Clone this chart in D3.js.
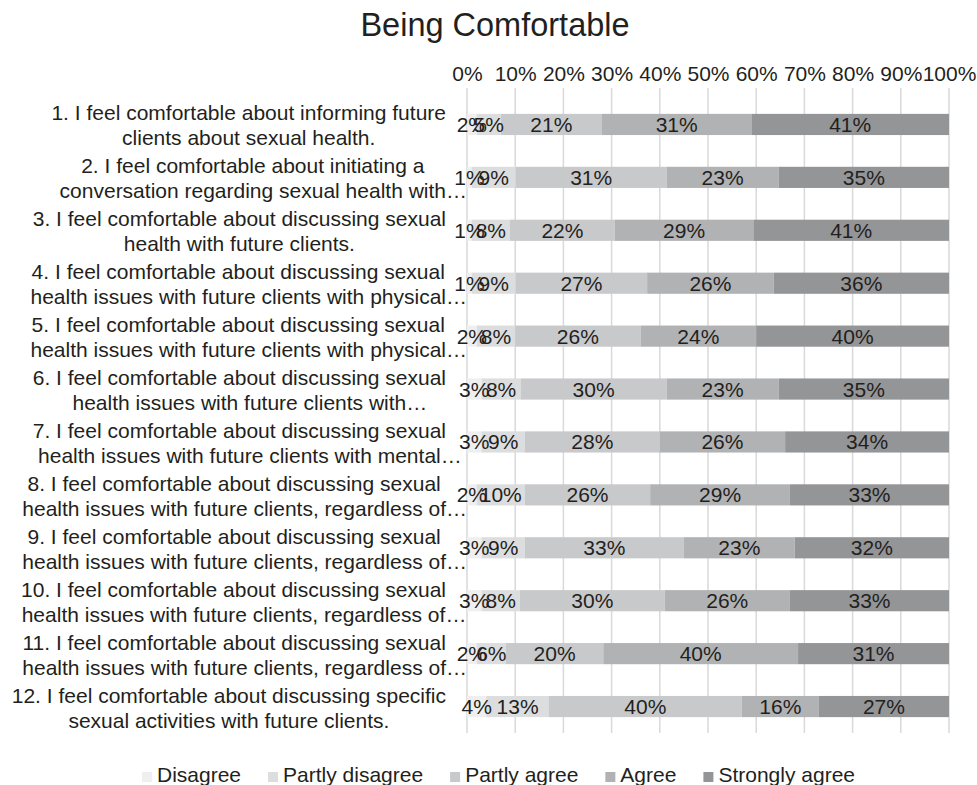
<!DOCTYPE html>
<html>
<head>
<meta charset="utf-8">
<script src="https://cdn.jsdelivr.net/npm/d3@7/dist/d3.min.js"></script>
<style>
  body { margin: 0; background: #fff; }
  svg text { font-family: "Liberation Sans", Arial, sans-serif; fill: #231f20; }
</style>
</head>
<body>
<div id="chart"></div>
<script>
// categories (two display lines each, as wrapped/truncated in the original)
const categories = [
  ["1. I feel comfortable about informing future", "clients about sexual health."],
  ["2. I feel comfortable about initiating a", "conversation regarding sexual health with…"],
  ["3. I feel comfortable about discussing sexual", "health with future clients."],
  ["4. I feel comfortable about discussing sexual", "health issues with future clients with physical…"],
  ["5. I feel comfortable about discussing sexual", "health issues with future clients with physical…"],
  ["6. I feel comfortable about discussing sexual", "health issues with future clients with…"],
  ["7. I feel comfortable about discussing sexual", "health issues with future clients with mental…"],
  ["8. I feel comfortable about discussing sexual", "health issues with future clients, regardless of…"],
  ["9. I feel comfortable about discussing sexual", "health issues with future clients, regardless of…"],
  ["10. I feel comfortable about discussing sexual", "health issues with future clients, regardless of…"],
  ["11. I feel comfortable about discussing sexual", "health issues with future clients, regardless of…"],
  ["12. I feel comfortable about discussing specific", "sexual activities with future clients."]
];

const seriesNames = ["Disagree", "Partly disagree", "Partly agree", "Agree", "Strongly agree"];

// percentages per category
const disagree       = [2, 1, 1, 1, 2, 3, 3, 2, 3, 3, 2, 4];
const partlyDisagree = [5, 9, 8, 9, 8, 8, 9, 10, 9, 8, 6, 13];
const partlyAgree    = [21, 31, 22, 27, 26, 30, 28, 26, 33, 30, 20, 40];
const agree          = [31, 23, 29, 26, 24, 23, 26, 29, 23, 26, 40, 16];
const stronglyAgree  = [41, 35, 41, 36, 40, 35, 34, 33, 32, 33, 31, 27];

const tickValues = [0, 0.1, 0.2, 0.3, 0.4, 0.5, 0.6, 0.7, 0.8, 0.9, 1];

const colors = ["#efeff0", "#dcdddf", "#c8c9cb", "#b1b2b4", "#949597"];

const W = 977, H = 785;
const fs = "21px";
const svg = d3.select("#chart").append("svg")
  .attr("width", W).attr("height", H);

const seriesValues = [disagree, partlyDisagree, partlyAgree, agree, stronglyAgree];
const rows = categories.map((c, i) => {
  const r = { idx: i };
  seriesNames.forEach((s, k) => r[s] = seriesValues[k][i]);
  return r;
});

const stacked = d3.stack().keys(seriesNames).offset(d3.stackOffsetExpand)(rows);

const x = d3.scaleLinear().domain([0, 1]).range([467, 949]);
const y = d3.scaleBand().domain(d3.range(categories.length))
  .range([98, 733]).paddingInner(0.6).paddingOuter(0.3);

// title
svg.append("text")
  .attr("x", 495).attr("y", 36)
  .attr("text-anchor", "middle")
  .style("font-size", "32.5px")
  .text("Being Comfortable");

// gridlines
svg.append("g").selectAll("line").data(tickValues).enter().append("line")
  .attr("x1", d => x(d)).attr("x2", d => x(d))
  .attr("y1", 88).attr("y2", 733)
  .attr("stroke", "#d9d9d9").attr("stroke-width", 1.5);

// top axis labels
const xAxis = svg.append("g")
  .attr("transform", "translate(0,81)")
  .call(d3.axisTop(x).tickValues(tickValues).tickFormat(d3.format(".0%")).tickSize(0).tickPadding(0));
xAxis.select(".domain").remove();
xAxis.selectAll("text").style("font-size", fs).attr("fill", "#231f20");

// bars
const layer = svg.append("g").selectAll("g").data(stacked).enter().append("g")
  .attr("fill", (d, i) => colors[i]);

layer.selectAll("rect").data(d => d).enter().append("rect")
  .attr("x", d => x(d[0]))
  .attr("width", d => x(d[1]) - x(d[0]))
  .attr("y", (d, i) => y(i))
  .attr("height", y.bandwidth());

// value labels
const labels = svg.append("g");
stacked.forEach(s => {
  labels.selectAll(null).data(s).enter().append("text")
    .attr("x", d => (x(d[0]) + x(d[1])) / 2)
    .attr("y", (d, i) => y(i) + y.bandwidth() / 2 + 7.5)
    .attr("text-anchor", "middle")
    .style("font-size", fs)
    .text(d => d.data[s.key] + "%");
});

// category labels
const catG = svg.append("g");
categories.forEach((lines, i) => {
  const cy = y(i) + y.bandwidth() / 2;
  const parts = lines.map(l => l.endsWith("…") ? [l.slice(0, -1), "…"] : [l, ""]);
  const texts = parts.map((p, k) => catG.append("text")
    .attr("y", cy - 4 + k * 25)
    .attr("text-anchor", "middle")
    .style("font-size", fs)
    .text(p[0]));
  const widths = texts.map(t => t.node().getComputedTextLength());
  const maxW = d3.max(widths);
  const cx = 446 - maxW / 2;
  texts.forEach((t, k) => {
    t.attr("x", cx);
    if (parts[k][1]) {
      catG.append("text")
        .attr("x", cx + widths[k] / 2)
        .attr("y", cy - 4 + k * 25)
        .style("font-size", fs)
        .text(parts[k][1]);
    }
  });
});

// legend
const legend = svg.append("g").attr("transform", "translate(142,782)");
let lx = 0;
seriesNames.forEach((name, i) => {
  const g = legend.append("g").attr("transform", `translate(${lx},0)`);
  g.append("rect").attr("x", 0).attr("y", -10).attr("width", 10).attr("height", 10)
    .attr("fill", colors[i]);
  const t = g.append("text").attr("x", 15).attr("y", 0)
    .style("font-size", fs).text(name);
  lx += 15 + t.node().getComputedTextLength() + 27;
});
</script>
</body>
</html>
